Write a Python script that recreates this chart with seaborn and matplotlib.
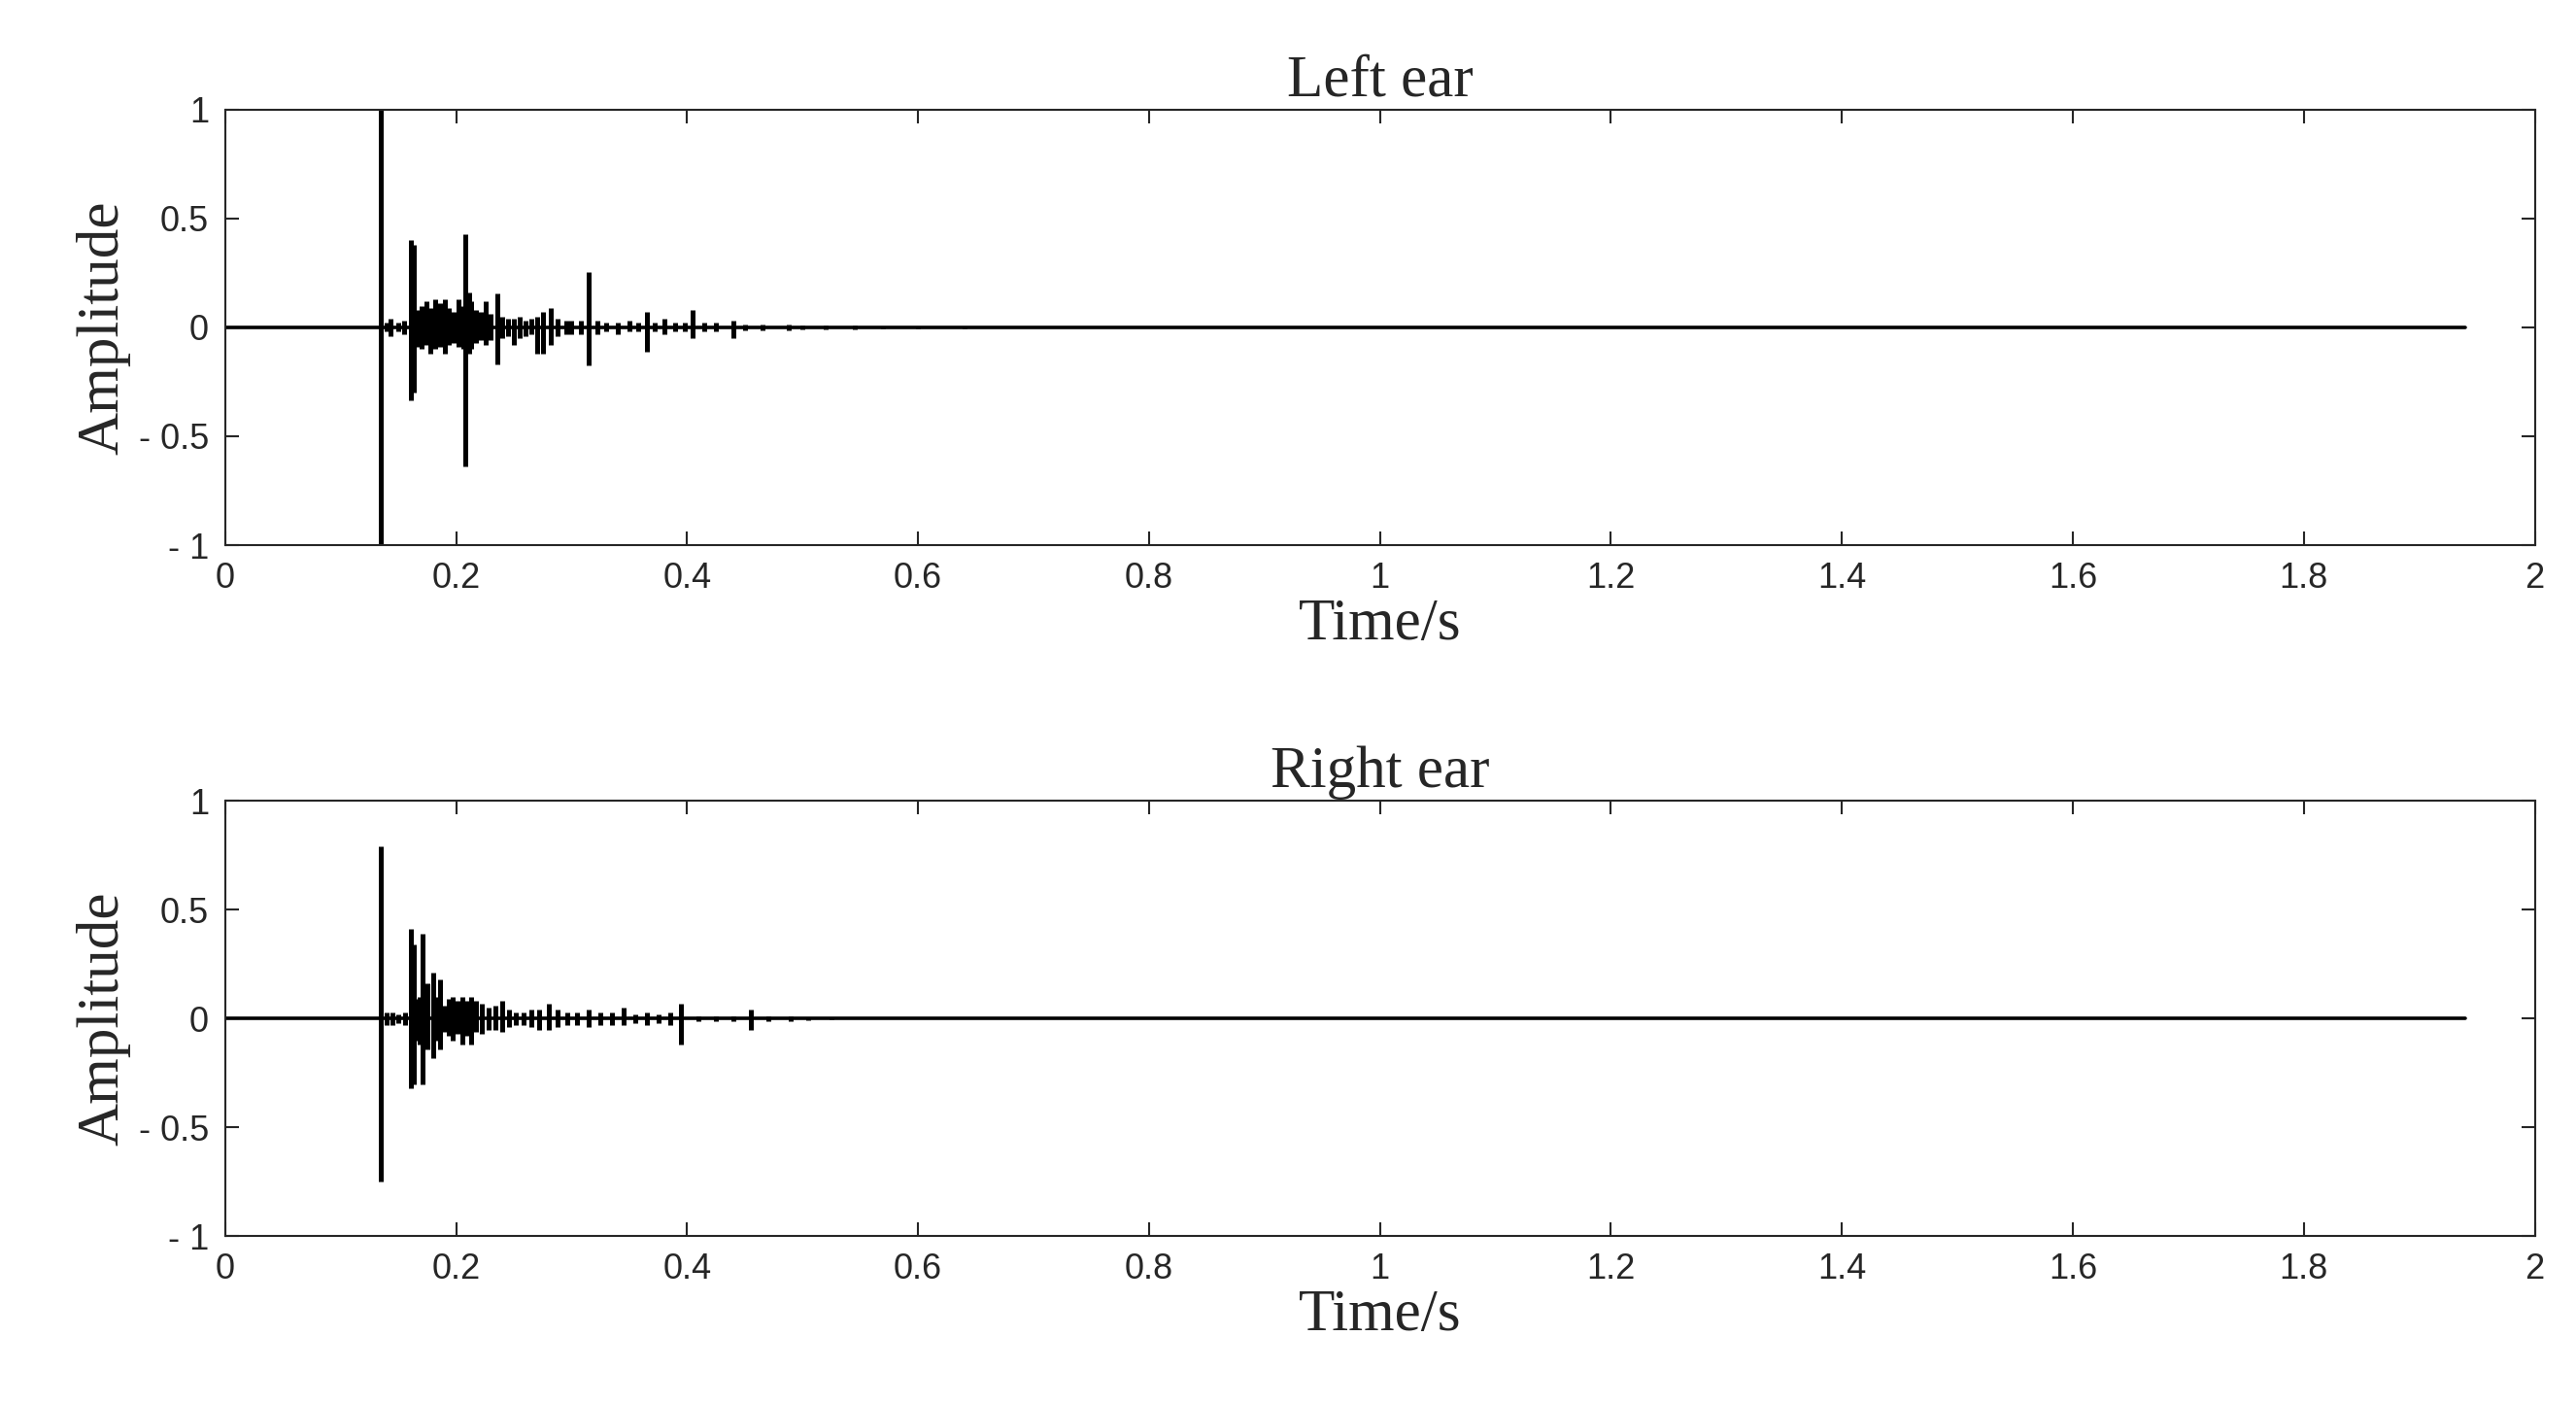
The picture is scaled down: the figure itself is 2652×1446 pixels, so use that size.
import matplotlib
matplotlib.use("Agg")
import matplotlib.pyplot as plt
import seaborn as sns
import numpy as np

sns.set_style("ticks")

# waveform envelope: time (s), positive peak, negative peak
left_t   = [0.135, 0.140, 0.143, 0.150, 0.155, 0.161, 0.163, 0.166, 0.170, 0.174, 0.178, 0.182, 0.186,
            0.190, 0.194, 0.198, 0.202, 0.206, 0.208, 0.211, 0.213, 0.217, 0.221, 0.226, 0.230, 0.236,
            0.240, 0.245, 0.250, 0.255, 0.260, 0.265, 0.270, 0.275, 0.282, 0.288, 0.295, 0.300, 0.308,
            0.315, 0.322, 0.330, 0.340, 0.350, 0.358, 0.365, 0.372, 0.380, 0.390, 0.398, 0.405, 0.415,
            0.425, 0.440, 0.450, 0.465, 0.488, 0.500, 0.520, 0.545, 0.570, 0.600, 0.640]
left_pos = [1.00, 0.02, 0.04, 0.02, 0.03, 0.40, 0.38, 0.08, 0.10, 0.12, 0.09, 0.13, 0.11,
            0.13, 0.09, 0.07, 0.13, 0.10, 0.43, 0.16, 0.12, 0.08, 0.07, 0.12, 0.06, 0.155,
            0.05, 0.04, 0.04, 0.05, 0.03, 0.04, 0.05, 0.07, 0.09, 0.04, 0.03, 0.03, 0.03,
            0.255, 0.03, 0.02, 0.02, 0.03, 0.02, 0.07, 0.02, 0.04, 0.02, 0.02, 0.08, 0.02,
            0.02, 0.03, 0.015, 0.015, 0.015, 0.01, 0.01, 0.008, 0.006, 0.005, 0.004]
left_neg = [-1.00, -0.02, -0.04, -0.02, -0.03, -0.335, -0.30, -0.09, -0.10, -0.08, -0.12, -0.10, -0.09,
            -0.12, -0.08, -0.07, -0.09, -0.10, -0.64, -0.12, -0.10, -0.07, -0.06, -0.08, -0.06, -0.17,
            -0.05, -0.04, -0.08, -0.05, -0.04, -0.03, -0.12, -0.12, -0.08, -0.04, -0.03, -0.03, -0.03,
            -0.175, -0.03, -0.02, -0.03, -0.02, -0.02, -0.11, -0.02, -0.03, -0.02, -0.02, -0.05, -0.02,
            -0.02, -0.05, -0.015, -0.015, -0.015, -0.01, -0.01, -0.008, -0.006, -0.005, -0.004]

right_t   = [0.135, 0.140, 0.145, 0.150, 0.156, 0.161, 0.163, 0.166, 0.168, 0.171, 0.175, 0.180, 0.183,
             0.186, 0.190, 0.194, 0.197, 0.201, 0.205, 0.209, 0.213, 0.217, 0.222, 0.228, 0.234, 0.240,
             0.246, 0.252, 0.258, 0.265, 0.272, 0.280, 0.288, 0.296, 0.305, 0.315, 0.325, 0.335, 0.345,
             0.355, 0.365, 0.375, 0.385, 0.395, 0.410, 0.425, 0.440, 0.455, 0.470, 0.490, 0.505, 0.525]
right_pos = [0.79, 0.03, 0.03, 0.02, 0.03, 0.41, 0.34, 0.09, 0.10, 0.39, 0.16, 0.21, 0.10,
             0.18, 0.06, 0.09, 0.10, 0.08, 0.10, 0.08, 0.10, 0.08, 0.07, 0.05, 0.06, 0.08,
             0.04, 0.03, 0.03, 0.04, 0.04, 0.07, 0.04, 0.03, 0.03, 0.04, 0.03, 0.03, 0.05,
             0.02, 0.03, 0.02, 0.03, 0.07, 0.01, 0.01, 0.01, 0.04, 0.01, 0.01, 0.006, 0.005]
right_neg = [-0.75, -0.03, -0.03, -0.02, -0.03, -0.32, -0.30, -0.10, -0.12, -0.30, -0.14, -0.18, -0.10,
             -0.14, -0.06, -0.08, -0.10, -0.07, -0.12, -0.08, -0.12, -0.06, -0.07, -0.05, -0.05, -0.06,
             -0.04, -0.03, -0.03, -0.04, -0.05, -0.05, -0.04, -0.03, -0.03, -0.04, -0.03, -0.03, -0.03,
             -0.02, -0.03, -0.02, -0.03, -0.12, -0.01, -0.01, -0.01, -0.05, -0.01, -0.01, -0.006, -0.005]

signal_end = 1.94
titles = ["Left ear", "Right ear"]
xticks = [0, 0.2, 0.4, 0.6, 0.8, 1, 1.2, 1.4, 1.6, 1.8, 2]
yticks = [-1, -0.5, 0, 0.5, 1]
ytick_labels = ["- 1", "- 0.5", "0", "0.5", "1"]

serif = ["Liberation Serif", "DejaVu Serif"]
sans = ["Liberation Sans", "DejaVu Sans"]

fig = plt.figure(figsize=(26.52, 14.46), dpi=100)
positions = [[0.0874, 0.612, 0.8966, 0.310], [0.0874, 0.120, 0.8966, 0.310]]
channels = [(left_t, left_pos, left_neg), (right_t, right_pos, right_neg)]

for pos, (t, p, n), title in zip(positions, channels, titles):
    ax = fig.add_axes(pos)
    sns.lineplot(x=[0, signal_end], y=[0, 0], ax=ax, color="black", linewidth=2.6)
    ax.vlines(t, n, p, color="black", linewidth=3.6)
    ax.set_xlim(0, 2)
    ax.set_ylim(-1, 1)
    ax.set_xticks(xticks)
    ax.set_xticklabels([f"{v:g}" for v in xticks], family=sans, fontsize=26)
    ax.set_yticks(yticks)
    ax.set_yticklabels(ytick_labels, family=sans, fontsize=26)
    ax.tick_params(direction="in", length=10, width=1.5, top=True, right=True, pad=12)
    for s in ax.spines.values():
        s.set_linewidth(1.5)
    ax.set_title(title, family=serif, fontsize=44, pad=10)
    ax.set_xlabel("Time/s", family=serif, fontsize=44, labelpad=2)
    ax.set_ylabel("Amplitude", family=serif, fontsize=44, labelpad=6)

fig.savefig("out.png", dpi=100)
